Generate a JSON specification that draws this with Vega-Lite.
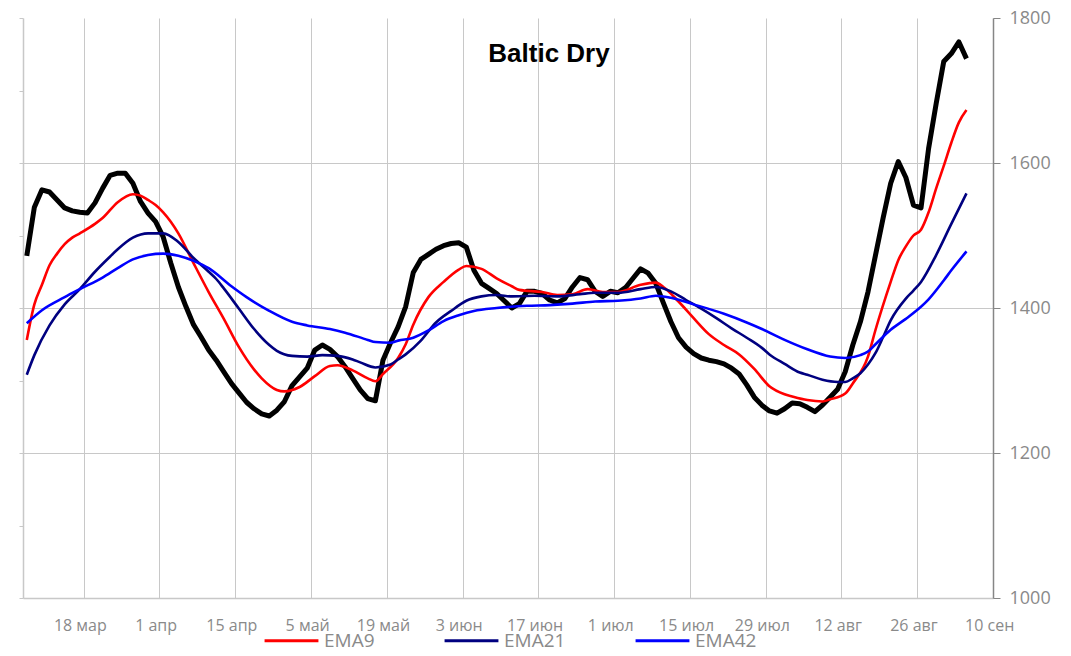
{
  "$schema": "https://vega.github.io/schema/vega-lite/v6.json",
  "width": 970,
  "height": 580,
  "autosize": {"type": "none"},
  "padding": {"left": 23, "top": 18, "right": 78, "bottom": 58},
  "background": "white",
  "config": {"view": {"stroke": null}, "font": "Open Sans"},
  "title": {"text": "Baltic Dry", "font": "Liberation Sans", "fontSize": 26, "fontWeight": "bold", "color": "black", "anchor": "middle", "frame": "group", "dx": 41, "baseline": "alphabetic", "offset": -79},
  "datasets": {
    "bdi": [
      {"i":0,"v":1472},{"i":1,"v":1539},{"i":2,"v":1563},{"i":3,"v":1560},{"i":4,"v":1549},{"i":5,"v":1538},{"i":6,"v":1534},{"i":7,"v":1532},{"i":8,"v":1531},{"i":9,"v":1545},
      {"i":10,"v":1565},{"i":11,"v":1583},{"i":12,"v":1586},{"i":13,"v":1586},{"i":14,"v":1572},{"i":15,"v":1547},{"i":16,"v":1531},{"i":17,"v":1519},{"i":18,"v":1498},{"i":19,"v":1462},
      {"i":20,"v":1429},{"i":21,"v":1402},{"i":22,"v":1377},{"i":23,"v":1360},{"i":24,"v":1342},{"i":25,"v":1328},{"i":26,"v":1312},{"i":27,"v":1296},{"i":28,"v":1283},{"i":29,"v":1270},
      {"i":30,"v":1261},{"i":31,"v":1254},{"i":32,"v":1251},{"i":33,"v":1259},{"i":34,"v":1271},{"i":35,"v":1293},{"i":36,"v":1305},{"i":37,"v":1317},{"i":38,"v":1342},{"i":39,"v":1349},
      {"i":40,"v":1343},{"i":41,"v":1333},{"i":42,"v":1319},{"i":43,"v":1303},{"i":44,"v":1287},{"i":45,"v":1275},{"i":46,"v":1272},{"i":47,"v":1328},{"i":48,"v":1352},{"i":49,"v":1374},
      {"i":50,"v":1402},{"i":51,"v":1449},{"i":52,"v":1467},{"i":53,"v":1474},{"i":54,"v":1481},{"i":55,"v":1486},{"i":56,"v":1489},{"i":57,"v":1490},{"i":58,"v":1484},{"i":59,"v":1452},
      {"i":60,"v":1434},{"i":61,"v":1427},{"i":62,"v":1420},{"i":63,"v":1410},{"i":64,"v":1400},{"i":65,"v":1406},{"i":66,"v":1423},{"i":67,"v":1423},{"i":68,"v":1420},{"i":69,"v":1411},
      {"i":70,"v":1407},{"i":71,"v":1413},{"i":72,"v":1429},{"i":73,"v":1442},{"i":74,"v":1439},{"i":75,"v":1423},{"i":76,"v":1416},{"i":77,"v":1423},{"i":78,"v":1421},{"i":79,"v":1428},
      {"i":80,"v":1441},{"i":81,"v":1454},{"i":82,"v":1448},{"i":83,"v":1434},{"i":84,"v":1407},{"i":85,"v":1381},{"i":86,"v":1359},{"i":87,"v":1346},{"i":88,"v":1337},{"i":89,"v":1331},
      {"i":90,"v":1328},{"i":91,"v":1326},{"i":92,"v":1323},{"i":93,"v":1317},{"i":94,"v":1309},{"i":95,"v":1294},{"i":96,"v":1277},{"i":97,"v":1266},{"i":98,"v":1258},{"i":99,"v":1255},
      {"i":100,"v":1261},{"i":101,"v":1269},{"i":102,"v":1268},{"i":103,"v":1263},{"i":104,"v":1257},{"i":105,"v":1266},{"i":106,"v":1277},{"i":107,"v":1288},{"i":108,"v":1312},{"i":109,"v":1349},
      {"i":110,"v":1381},{"i":111,"v":1422},{"i":112,"v":1473},{"i":113,"v":1524},{"i":114,"v":1572},{"i":115,"v":1602},{"i":116,"v":1580},{"i":117,"v":1542},{"i":118,"v":1538},{"i":119,"v":1620},
      {"i":120,"v":1682},{"i":121,"v":1740},{"i":122,"v":1751},{"i":123,"v":1767},{"i":124,"v":1744}
    ],
    "ema": [
      {"s":"EMA9","i":0,"v":1356},{"s":"EMA9","i":1,"v":1405},{"s":"EMA9","i":2,"v":1432},{"s":"EMA9","i":3,"v":1459},{"s":"EMA9","i":4,"v":1475},{"s":"EMA9","i":5,"v":1488},{"s":"EMA9","i":6,"v":1497},{"s":"EMA9","i":7,"v":1503},{"s":"EMA9","i":9,"v":1516},{"s":"EMA9","i":10,"v":1524},
      {"s":"EMA9","i":12,"v":1546},{"s":"EMA9","i":14,"v":1557},{"s":"EMA9","i":15,"v":1555},{"s":"EMA9","i":16,"v":1549},{"s":"EMA9","i":17,"v":1542},{"s":"EMA9","i":18,"v":1532},{"s":"EMA9","i":19,"v":1519},{"s":"EMA9","i":20,"v":1503},{"s":"EMA9","i":22,"v":1462},{"s":"EMA9","i":24,"v":1422},
      {"s":"EMA9","i":26,"v":1385},{"s":"EMA9","i":28,"v":1346},{"s":"EMA9","i":30,"v":1315},{"s":"EMA9","i":31,"v":1303},{"s":"EMA9","i":33,"v":1287},{"s":"EMA9","i":34,"v":1285},{"s":"EMA9","i":36,"v":1291},{"s":"EMA9","i":38,"v":1306},{"s":"EMA9","i":40,"v":1320},{"s":"EMA9","i":41,"v":1321},
      {"s":"EMA9","i":43,"v":1314},{"s":"EMA9","i":45,"v":1303},{"s":"EMA9","i":46,"v":1299},{"s":"EMA9","i":47,"v":1309},{"s":"EMA9","i":49,"v":1331},{"s":"EMA9","i":50,"v":1350},{"s":"EMA9","i":51,"v":1377},{"s":"EMA9","i":53,"v":1415},{"s":"EMA9","i":55,"v":1436},{"s":"EMA9","i":57,"v":1453},
      {"s":"EMA9","i":58,"v":1458},{"s":"EMA9","i":60,"v":1454},{"s":"EMA9","i":62,"v":1441},{"s":"EMA9","i":64,"v":1430},{"s":"EMA9","i":65,"v":1425},{"s":"EMA9","i":68,"v":1422},{"s":"EMA9","i":70,"v":1418},{"s":"EMA9","i":72,"v":1419},{"s":"EMA9","i":74,"v":1426},{"s":"EMA9","i":76,"v":1422},
      {"s":"EMA9","i":78,"v":1422},{"s":"EMA9","i":81,"v":1432},{"s":"EMA9","i":83,"v":1435},{"s":"EMA9","i":84,"v":1429},{"s":"EMA9","i":86,"v":1409},{"s":"EMA9","i":88,"v":1386},{"s":"EMA9","i":90,"v":1364},{"s":"EMA9","i":92,"v":1349},{"s":"EMA9","i":94,"v":1336},{"s":"EMA9","i":96,"v":1316},
      {"s":"EMA9","i":98,"v":1292},{"s":"EMA9","i":100,"v":1281},{"s":"EMA9","i":101,"v":1278},{"s":"EMA9","i":103,"v":1273},{"s":"EMA9","i":105,"v":1271},{"s":"EMA9","i":106,"v":1274},{"s":"EMA9","i":108,"v":1282},{"s":"EMA9","i":109,"v":1296},{"s":"EMA9","i":111,"v":1333},{"s":"EMA9","i":112,"v":1370},
      {"s":"EMA9","i":114,"v":1436},{"s":"EMA9","i":115,"v":1466},{"s":"EMA9","i":116,"v":1485},{"s":"EMA9","i":117,"v":1500},{"s":"EMA9","i":118,"v":1508},{"s":"EMA9","i":119,"v":1532},{"s":"EMA9","i":120,"v":1565},{"s":"EMA9","i":121,"v":1596},{"s":"EMA9","i":122,"v":1628},{"s":"EMA9","i":123,"v":1656},{"s":"EMA9","i":124,"v":1673},
      {"s":"EMA21","i":0,"v":1308},{"s":"EMA21","i":1,"v":1335},{"s":"EMA21","i":3,"v":1376},{"s":"EMA21","i":5,"v":1405},{"s":"EMA21","i":7,"v":1426},{"s":"EMA21","i":9,"v":1450},{"s":"EMA21","i":11,"v":1471},{"s":"EMA21","i":12,"v":1481},{"s":"EMA21","i":14,"v":1497},{"s":"EMA21","i":16,"v":1503},
      {"s":"EMA21","i":18,"v":1503},{"s":"EMA21","i":20,"v":1491},{"s":"EMA21","i":22,"v":1469},{"s":"EMA21","i":24,"v":1450},{"s":"EMA21","i":25,"v":1440},{"s":"EMA21","i":26,"v":1427},{"s":"EMA21","i":28,"v":1399},{"s":"EMA21","i":30,"v":1371},{"s":"EMA21","i":32,"v":1349},{"s":"EMA21","i":33,"v":1341},
      {"s":"EMA21","i":35,"v":1334},{"s":"EMA21","i":37,"v":1333},{"s":"EMA21","i":39,"v":1335},{"s":"EMA21","i":41,"v":1334},{"s":"EMA21","i":43,"v":1329},{"s":"EMA21","i":44,"v":1325},{"s":"EMA21","i":46,"v":1318},{"s":"EMA21","i":48,"v":1322},{"s":"EMA21","i":49,"v":1329},{"s":"EMA21","i":50,"v":1336},
      {"s":"EMA21","i":52,"v":1355},{"s":"EMA21","i":54,"v":1380},{"s":"EMA21","i":56,"v":1396},{"s":"EMA21","i":58,"v":1410},{"s":"EMA21","i":60,"v":1416},{"s":"EMA21","i":62,"v":1418},{"s":"EMA21","i":64,"v":1416},{"s":"EMA21","i":67,"v":1417},{"s":"EMA21","i":70,"v":1416},{"s":"EMA21","i":73,"v":1419},
      {"s":"EMA21","i":75,"v":1421},{"s":"EMA21","i":78,"v":1421},{"s":"EMA21","i":81,"v":1426},{"s":"EMA21","i":83,"v":1429},{"s":"EMA21","i":85,"v":1423},{"s":"EMA21","i":87,"v":1411},{"s":"EMA21","i":89,"v":1399},{"s":"EMA21","i":91,"v":1386},{"s":"EMA21","i":93,"v":1372},{"s":"EMA21","i":95,"v":1359},
      {"s":"EMA21","i":97,"v":1345},{"s":"EMA21","i":98,"v":1336},{"s":"EMA21","i":100,"v":1323},{"s":"EMA21","i":102,"v":1311},{"s":"EMA21","i":103,"v":1308},{"s":"EMA21","i":105,"v":1301},{"s":"EMA21","i":107,"v":1298},{"s":"EMA21","i":108,"v":1298},{"s":"EMA21","i":109,"v":1303},{"s":"EMA21","i":110,"v":1310},
      {"s":"EMA21","i":111,"v":1322},{"s":"EMA21","i":112,"v":1338},{"s":"EMA21","i":113,"v":1360},{"s":"EMA21","i":114,"v":1383},{"s":"EMA21","i":116,"v":1413},{"s":"EMA21","i":117,"v":1424},{"s":"EMA21","i":118,"v":1436},{"s":"EMA21","i":120,"v":1473},{"s":"EMA21","i":122,"v":1516},{"s":"EMA21","i":124,"v":1558},
      {"s":"EMA42","i":0,"v":1379},{"s":"EMA42","i":2,"v":1397},{"s":"EMA42","i":5,"v":1415},{"s":"EMA42","i":7,"v":1426},{"s":"EMA42","i":10,"v":1442},{"s":"EMA42","i":12,"v":1455},{"s":"EMA42","i":14,"v":1467},{"s":"EMA42","i":16,"v":1473},{"s":"EMA42","i":18,"v":1475},{"s":"EMA42","i":20,"v":1472},
      {"s":"EMA42","i":22,"v":1465},{"s":"EMA42","i":24,"v":1455},{"s":"EMA42","i":27,"v":1430},{"s":"EMA42","i":29,"v":1415},{"s":"EMA42","i":32,"v":1396},{"s":"EMA42","i":35,"v":1381},{"s":"EMA42","i":37,"v":1376},{"s":"EMA42","i":40,"v":1371},{"s":"EMA42","i":42,"v":1366},{"s":"EMA42","i":45,"v":1356},
      {"s":"EMA42","i":46,"v":1353},{"s":"EMA42","i":48,"v":1352},{"s":"EMA42","i":49,"v":1355},{"s":"EMA42","i":51,"v":1359},{"s":"EMA42","i":53,"v":1369},{"s":"EMA42","i":55,"v":1382},{"s":"EMA42","i":57,"v":1390},{"s":"EMA42","i":59,"v":1396},{"s":"EMA42","i":62,"v":1400},{"s":"EMA42","i":66,"v":1403},
      {"s":"EMA42","i":69,"v":1404},{"s":"EMA42","i":72,"v":1406},{"s":"EMA42","i":75,"v":1409},{"s":"EMA42","i":78,"v":1410},{"s":"EMA42","i":81,"v":1413},{"s":"EMA42","i":83,"v":1417},{"s":"EMA42","i":85,"v":1414},{"s":"EMA42","i":88,"v":1405},{"s":"EMA42","i":92,"v":1392},{"s":"EMA42","i":95,"v":1380},
      {"s":"EMA42","i":97,"v":1371},{"s":"EMA42","i":100,"v":1356},{"s":"EMA42","i":103,"v":1343},{"s":"EMA42","i":106,"v":1333},{"s":"EMA42","i":108,"v":1331},{"s":"EMA42","i":110,"v":1335},{"s":"EMA42","i":111,"v":1340},{"s":"EMA42","i":112,"v":1350},{"s":"EMA42","i":114,"v":1370},{"s":"EMA42","i":116,"v":1385},
      {"s":"EMA42","i":117,"v":1393},{"s":"EMA42","i":119,"v":1412},{"s":"EMA42","i":121,"v":1438},{"s":"EMA42","i":122,"v":1452},{"s":"EMA42","i":124,"v":1478}
    ]
  },
  "encoding": {
    "x": {
      "field": "i", "type": "quantitative",
      "scale": {"domain": [-0.5, 127.5], "nice": false, "zero": false},
      "axis": {
        "title": null,
        "values": [7.5, 17.5, 27.5, 37.5, 47.5, 57.5, 67.5, 77.5, 87.5, 97.5, 107.5, 117.5, 127.5],
        "labelExpr": "['18 мар','1 апр','15 апр','5 май','19 май','3 июн','17 июн','1 июл','15 июл','29 июл','12 авг','26 авг','10 сен'][round((datum.value-7.5)/10)]",
        "labelOffset": -3.8,
        "labelFlush": false,
        "labelFont": "Open Sans",
        "labelFontSize": 16,
        "labelColor": "#8a8a8a",
        "labelPadding": 19,
        "ticks": false,
        "grid": true,
        "gridColor": "#c8c8c8",
        "gridWidth": 1,
        "domainColor": "#c8c8c8",
        "domainWidth": 1.5
      }
    }
  },
  "layer": [
    {
      "data": {"name": "bdi"},
      "mark": {"type": "line", "color": "black", "strokeWidth": 5, "strokeJoin": "round"},
      "encoding": {
        "y": {
          "field": "v", "type": "quantitative",
          "scale": {"domain": [1000, 1800], "nice": false, "zero": false},
          "axis": {
            "orient": "left", "title": null, "labels": false,
            "values": [1000, 1100, 1200, 1300, 1400, 1500, 1600, 1700, 1800],
            "tickSize": 4, "tickColor": "#c8c8c8", "domainColor": "#c8c8c8", "domainWidth": 1.5,
            "grid": true,
            "gridColor": "#c8c8c8",
            "gridOpacity": {"condition": {"test": "datum.value == 1200 || datum.value == 1400 || datum.value == 1600", "value": 1}, "value": 0}
          }
        }
      }
    },
    {
      "data": {"name": "ema"},
      "mark": {"type": "line", "strokeWidth": 2.6, "interpolate": "monotone"},
      "encoding": {
        "y": {
          "field": "v", "type": "quantitative",
          "scale": {"domain": [1000, 1800], "nice": false, "zero": false},
          "axis": {
            "orient": "right", "title": null, "format": "d",
            "values": [1000, 1200, 1400, 1600, 1800],
            "tickSize": 7, "tickColor": "#868686", "domainColor": "#868686", "domainWidth": 1.5,
            "labelFont": "Open Sans", "labelFontSize": 18, "labelColor": "#8a8a8a", "labelPadding": 9,
            "grid": false
          }
        },
        "color": {
          "field": "s", "type": "nominal",
          "scale": {"domain": ["EMA9", "EMA21", "EMA42"], "range": ["#ff0000", "#000080", "#0000ff"]},
          "legend": {
            "title": null, "orient": "none", "direction": "horizontal",
            "legendX": 240, "legendY": 594,
            "symbolType": "stroke", "symbolSize": 2900, "symbolStrokeWidth": 3,
            "labelFont": "Open Sans", "labelFontSize": 19, "labelColor": "#8a8a8a", "labelOffset": 4,
            "columnPadding": 63
          }
        }
      }
    }
  ],
  "resolve": {"axis": {"y": "independent"}}
}
